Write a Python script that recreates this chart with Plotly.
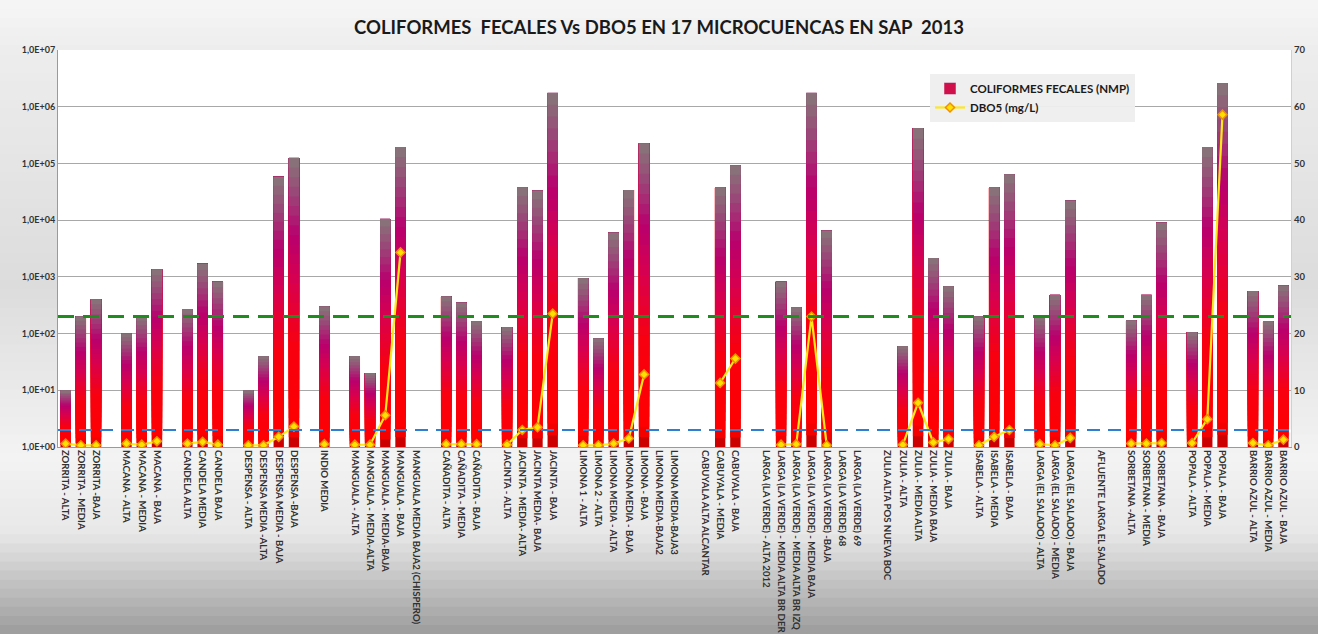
import math
import plotly.graph_objects as go

# ---------------- DATA ----------------
categories = [
    "ZORRITA - ALTA", "ZORRITA - MEDIA", "ZORRITA -BAJA", "",
    "MACANA - ALTA", "MACANA - MEDIA", "MACANA - BAJA", "",
    "CANDELA ALTA", "CANDELA MEDIA", "CANDELA BAJA", "",
    "DESPENSA - ALTA", "DESPENSA MEDIA -ALTA", "DESPENSA MEDIA - BAJA", "DESPENSA -BAJA", "",
    "INDIO MEDIA", "",
    "MANGUALA - ALTA", "MANGUALA - MEDIA-ALTA", "MANGUALA - MEDIA-BAJA", "MANGUALA - BAJA",
    "MANGUALA MEDIA BAJA2 (CHISPERO)", "",
    "CAÑADITA - ALTA", "CAÑADITA - MEDIA", "CAÑADITA - BAJA", "",
    "JACINTA - ALTA", "JACINTA - MEDIA- ALTA", "JACINTA MEDIA- BAJA", "JACINTA - BAJA", "",
    "LIMONA 1 - ALTA", "LIMONA 2 - ALTA", "LIMONA MEDIA - ALTA", "LIMONA MEDIA - BAJA",
    "LIMONA - BAJA", "LIMONA MEDIA-BAJA2", "LIMONA MEDIA-BAJA3", "",
    "CABUYALA ALTA ALCANTAR", "CABUYALA - MEDIA", "CABUYALA - BAJA", "",
    "LARGA (LA VERDE) - ALTA 2012", "LARGA (LA VERDE) - MEDIA ALTA BR DER",
    "LARGA (LA VERDE) - MEDIA ALTA BR IZQ", "LARGA (LA VERDE) - MEDIA BAJA",
    "LARGA (LA VERDE) -BAJA", "LARGA (LA VERDE) 68", "LARGA (LA VERDE) 69", "",
    "ZULIA ALTA POS NUEVA BOC", "ZULIA - ALTA", "ZULIA - MEDIA ALTA", "ZULIA - MEDIA BAJA",
    "ZULIA - BAJA", "",
    "ISABELA - ALTA", "ISABELA - MEDIA", "ISABELA - BAJA", "",
    "LARGA (EL SALADO) - ALTA", "LARGA (EL SALADO) - MEDIA", "LARGA (EL SALADO) - BAJA", "",
    "AFLUENTE LARGA EL SALADO", "",
    "SORBETANA -ALTA", "SORBETANA - MEDIA", "SORBETANA - BAJA", "",
    "POPALA - ALTA", "POPALA - MEDIA", "POPALA - BAJA", "",
    "BARRIO AZUL - ALTA", "BARRIO AZUL - MEDIA", "BARRIO AZUL - BAJA",
]

coliformes = [
    10, 200, 400, None,
    100, 200, 1350, None,
    270, 1700, 820, None,
    10, 40, 58000, 125000, None,
    300, None,
    40, 20, 10500, 195000, None, None,
    450, 350, 165, None,
    130, 38000, 33000, 1750000, None,
    950, 82, 6000, 34000, 225000, None, None, None,
    None, 38000, 92000, None,
    None, 820, 290, 1750000, 6500, None, None, None,
    None, 60, 420000, 2150, 680, None,
    200, 38000, 64000, None,
    200, 480, 22000, None,
    None, None,
    170, 480, 9000, None,
    105, 195000, 2600000, None,
    560, 165, 700,
]

dbo5 = [
    0.6, 0.3, 0.3, None,
    0.6, 0.4, 1.0, None,
    0.6, 0.9, 0.4, None,
    0.3, 0.3, 1.8, 3.6, None,
    0.5, None,
    0.4, 0.4, 5.6, 34.3, None, None,
    0.5, 0.5, 0.5, None,
    0.4, 3.0, 3.5, 23.5, None,
    0.3, 0.3, 0.6, 1.5, 12.8, None, None, None,
    None, 11.3, 15.6, None,
    None, 0.4, 0.5, 23.0, 0.3, None, None, None,
    None, 0.4, 7.8, 0.8, 1.4, None,
    0.3, 1.8, 3.0, None,
    0.5, 0.3, 1.6, None,
    None, None,
    0.6, 0.6, 0.7, None,
    0.7, 4.9, 58.6, None,
    0.7, 0.3, 1.3,
]

left_tickvals = [1, 10, 100, 1000, 10000, 100000, 1000000, 10000000]
left_ticktext = ["1,0E+00", "1,0E+01", "1,0E+02", "1,0E+03", "1,0E+04",
                 "1,0E+05", "1,0E+06", "1,0E+07"]
right_tickvals = [0, 10, 20, 30, 40, 50, 60, 70]

limit_coliformes = 200   # green dashed line
limit_low = 2            # blue dashed line

FONT = "Lato, Open Sans, sans-serif"

# ---------------- STYLE HELPERS ----------------
def hex2rgb(h):
    h = h.lstrip("#")
    return tuple(int(h[i:i + 2], 16) for i in (0, 2, 4))

def interp(stops, f):
    for (f0, c0), (f1, c1) in zip(stops, stops[1:]):
        if f0 <= f <= f1:
            t = 0 if f1 == f0 else (f - f0) / (f1 - f0)
            a, b = hex2rgb(c0), hex2rgb(c1)
            r = [round(a[i] + (b[i] - a[i]) * t) for i in range(3)]
            return "rgb(%d,%d,%d)" % tuple(r)
    return stops[-1][1]

bar_stops = [(0.0, "#B80000"), (0.06, "#FF0000"), (0.35, "#F80010"),
             (0.57, "#D8004E"), (0.73, "#B8006E"), (0.88, "#9A4878"), (1.0, "#857878")]

x = list(range(len(categories)))
fig = go.Figure()

# gradient bars: each bar drawn as N overlapping layers, each from a rising base to the top
N = 30
for k in range(N):
    bases, heights = [], []
    for v in coliformes:
        if v is None or v <= 1:
            bases.append(None); heights.append(None)
            continue
        L = math.log10(v)
        b = 10 ** (L * k / N)
        bases.append(b); heights.append(v - b)
    fig.add_trace(go.Bar(
        x=x, y=heights, base=bases, width=0.68,
        marker=dict(color=interp(bar_stops, (k + 0.5) / N), line=dict(width=0)),
        showlegend=False, hoverinfo="skip", yaxis="y"))

# legend entry for bars
fig.add_trace(go.Bar(x=[None], y=[None], name="<b>COLIFORMES FECALES (NMP)</b>",
                     marker=dict(color="#D0104A"), showlegend=True))

# DBO5 line
fig.add_trace(go.Scatter(
    x=x, y=dbo5, yaxis="y2", mode="lines+markers", name="<b>DBO5 (mg/L)</b>",
    line=dict(color="#FFE81A", width=2.2),
    marker=dict(symbol="diamond", size=7, color="#FFE000",
                line=dict(color="#F09000", width=1.5)),
    connectgaps=False))

# ---------------- BACKGROUND ----------------
W, H = 1318, 634
ML, MR, MT, MB = 58, 27, 50, 187
pw, ph = W - ML - MR, H - MT - MB

def px2paper_x(px):
    return (px - ML) / pw

def px2paper_y(py):
    return (H - MB - py) / ph

bg_stops = [(0.0, "#F6F6F6"), (0.08, "#EDEDED"), (0.45, "#DCDCDC"), (0.72, "#F3F3F3"),
            (0.84, "#E8E8E8"), (1.0, "#9C9C9C")]
shapes = []
nb = 70
for i in range(nb):
    y0 = H * i / nb
    y1 = H * (i + 1) / nb + 1
    shapes.append(dict(type="rect", xref="paper", yref="paper",
                       x0=px2paper_x(0), x1=px2paper_x(W),
                       y0=px2paper_y(y1), y1=px2paper_y(y0),
                       fillcolor=interp(bg_stops, (i + 0.5) / nb),
                       line=dict(width=0), layer="below"))
# plot area
shapes.append(dict(type="rect", xref="paper", yref="paper", x0=0, x1=1, y0=0, y1=1,
                   fillcolor="white", line=dict(width=0), layer="below"))
# reference lines
shapes.append(dict(type="line", xref="paper", yref="y", x0=0, x1=1,
                   y0=limit_coliformes, y1=limit_coliformes,
                   line=dict(color="#1E8C1E", width=3, dash="16px,9px"), layer="above"))
shapes.append(dict(type="line", xref="paper", yref="y", x0=0, x1=1,
                   y0=limit_low, y1=limit_low,
                   line=dict(color="#2F7FD0", width=2, dash="13px,8px"), layer="above"))

fig.update_layout(
    width=W, height=H,
    margin=dict(l=ML, r=MR, t=MT, b=MB, pad=0, autoexpand=False),
    paper_bgcolor="#E8E8E8", plot_bgcolor="white",
    barmode="overlay", bargap=0.33,
    shapes=shapes,
    title=dict(text="<b>COLIFORMES  FECALES Vs DBO5 EN 17 MICROCUENCAS EN SAP  2013</b>",
               x=0.5, xanchor="center", y=1 - 28 / H, yanchor="middle",
               font=dict(family=FONT, size=18.5, color="#1a1a1a")),
    xaxis=dict(tickmode="array", tickvals=x,
               ticktext=[("<b>%s</b>" % c) if c else "" for c in categories], tickangle=90,
               range=[-0.5, len(categories) - 0.5], showgrid=False, automargin=False,
               showline=True, linecolor="#9a9a9a", linewidth=1, ticks="",
               tickfont=dict(family=FONT, size=9.6, color="#303030"),
               zeroline=False),
    yaxis=dict(type="log", range=[0, 7], tickmode="array", tickvals=left_tickvals,
               ticktext=["<b>%s</b>" % t for t in left_ticktext], automargin=False,
               showgrid=True, gridcolor="#A8A8A8", gridwidth=1,
               showline=True, linecolor="#9a9a9a", linewidth=1,
               tickfont=dict(family=FONT, size=9, color="#333333"),
               zeroline=False),
    yaxis2=dict(overlaying="y", side="right", range=[0, 70], tickmode="array",
                tickvals=right_tickvals, automargin=False,
                ticktext=["<b>%d</b>" % t for t in right_tickvals],
                showgrid=False, showline=True, linecolor="#d0d0d0", zeroline=False,
                tickfont=dict(family=FONT, size=9.5, color="#333333")),
    legend=dict(x=px2paper_x(930), y=px2paper_y(74), xanchor="left", yanchor="top",
                bgcolor="rgba(238,238,238,0.95)", borderwidth=0,
                font=dict(family=FONT, size=11.5, color="#1a1a1a"),
                tracegroupgap=2),
    showlegend=True,
)

fig.write_html("out.html", config={"displayModeBar": False},
               post_script="document.body.style.margin='0';document.body.style.padding='0';")
